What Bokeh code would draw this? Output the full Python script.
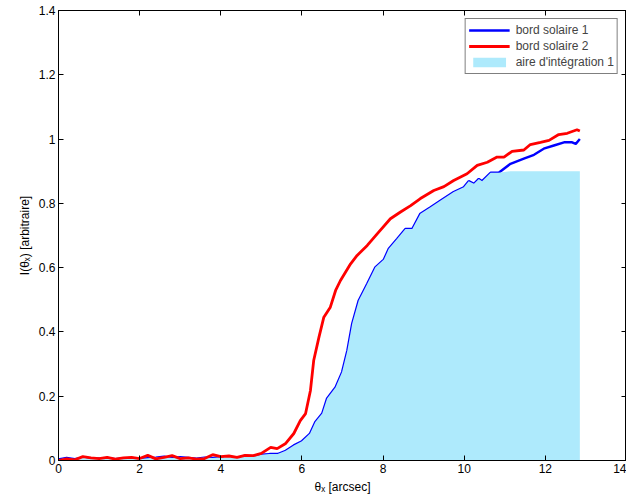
import numpy as np
from bokeh.plotting import figure
from bokeh.models import Range1d, LinearAxis, Legend, LegendItem, FixedTicker
from bokeh.embed import file_html
from bokeh.resources import INLINE

# bord solaire 1 (blue)
x1 = [0.0, 0.2, 0.4, 0.6, 0.8, 1.0, 1.2, 1.4, 1.6, 1.8, 2.0, 2.2, 2.4, 2.6, 2.8,
      3.0, 3.2, 3.4, 3.6, 3.8, 4.0, 4.2, 4.4, 4.6, 4.8, 5.0, 5.2, 5.4, 5.6, 5.8,
      6.0, 6.2, 6.33, 6.5, 6.62, 6.83, 6.99, 7.12, 7.24, 7.4, 7.61, 7.81, 8.02,
      8.14, 8.35, 8.55, 8.72, 8.92, 9.17, 9.42, 9.74, 9.99, 10.11, 10.24, 10.36,
      10.44, 10.65, 10.85, 11.14, 11.47, 11.72, 11.96, 12.21, 12.46, 12.66, 12.75, 12.85]
y1 = [0.003, 0.008, 0.004, 0.009, 0.005, 0.006, 0.008, 0.004, 0.007, 0.006, 0.005,
      0.007, 0.009, 0.012, 0.008, 0.010, 0.008, 0.006, 0.009, 0.008, 0.010, 0.012,
      0.008, 0.015, 0.012, 0.018, 0.020, 0.020, 0.030, 0.047, 0.060, 0.084, 0.120,
      0.146, 0.193, 0.228, 0.275, 0.342, 0.426, 0.498, 0.550, 0.601, 0.625, 0.659,
      0.690, 0.720, 0.720, 0.768, 0.788, 0.809, 0.835, 0.850, 0.869, 0.861, 0.876,
      0.869, 0.895, 0.895, 0.923, 0.939, 0.951, 0.970, 0.980, 0.990, 0.990, 0.985, 1.000]

# bord solaire 2 (red)
x2 = [0.0, 0.2, 0.4, 0.6, 0.8, 1.0, 1.2, 1.4, 1.6, 1.8, 2.0, 2.2, 2.4, 2.6, 2.8,
      3.0, 3.2, 3.4, 3.6, 3.8, 4.0, 4.2, 4.4, 4.6, 4.8, 5.0, 5.23, 5.39, 5.6, 5.8,
      5.96, 6.09, 6.21, 6.29, 6.42, 6.54, 6.7, 6.83, 6.95, 7.2, 7.36, 7.61, 7.86,
      8.18, 8.43, 8.68, 8.92, 9.25, 9.5, 9.74, 10.07, 10.32, 10.57, 10.81, 10.98,
      11.18, 11.47, 11.63, 11.88, 12.09, 12.33, 12.54, 12.78, 12.85]
y2 = [0.000, 0.005, 0.002, 0.012, 0.008, 0.006, 0.010, 0.004, 0.008, 0.010, 0.006,
      0.016, 0.005, 0.010, 0.015, 0.006, 0.008, 0.004, 0.006, 0.018, 0.012, 0.014,
      0.010, 0.016, 0.015, 0.022, 0.041, 0.037, 0.053, 0.084, 0.124, 0.146, 0.218,
      0.311, 0.384, 0.446, 0.477, 0.529, 0.560, 0.612, 0.638, 0.669, 0.706, 0.752,
      0.773, 0.793, 0.815, 0.840, 0.852, 0.871, 0.892, 0.918, 0.928, 0.944, 0.944,
      0.962, 0.966, 0.983, 0.990, 0.996, 1.014, 1.018, 1.029, 1.025]

area_cap = 0.9
x_ticks = [0, 2, 4, 6, 8, 10, 12, 14]
y_ticks = [0, 0.2, 0.4, 0.6, 0.8, 1.0, 1.2, 1.4]

FONT = "Liberation Sans"

p = figure(frame_width=568, frame_height=450, output_backend="svg", toolbar_location=None,
           x_range=Range1d(0, 14), y_range=Range1d(0, 1.4),
           min_border_left=58, min_border_right=0, min_border_top=10, min_border_bottom=0)
p.grid.visible = False
p.outline_line_color = "black"
p.outline_line_width = 1

p.xaxis.axis_label = "θₓ [arcsec]"
p.yaxis.axis_label = "I(θₓ) [arbitraire]"

for ax, tk in [(p.xaxis[0], x_ticks), (p.yaxis[0], y_ticks)]:
    ax.ticker = FixedTicker(ticks=tk)
    ax.major_tick_in = 5
    ax.major_tick_out = 0
    ax.minor_tick_in = 0
    ax.minor_tick_out = 0
    ax.axis_line_color = "black"
    ax.major_tick_line_color = "black"
    ax.major_label_text_font = FONT
    ax.major_label_text_font_size = "12px"
    ax.major_label_text_color = "black"
    ax.axis_label_text_font = FONT
    ax.axis_label_text_font_size = "12px"
    ax.axis_label_text_font_style = "normal"
    ax.axis_label_text_color = "black"
    ax.major_label_standoff = 3
    ax.axis_label_standoff = 4

p.yaxis[0].major_label_overrides = {0: "0", 1: "1"}

top = LinearAxis(ticker=FixedTicker(ticks=x_ticks), major_tick_in=5, major_tick_out=0,
                 minor_tick_in=0, minor_tick_out=0,
                 major_label_overrides={t: "" for t in x_ticks},
                 major_label_standoff=0, axis_line_color="black")
right = LinearAxis(ticker=FixedTicker(ticks=y_ticks), major_tick_in=5, major_tick_out=0,
                   minor_tick_in=0, minor_tick_out=0,
                   major_label_overrides={t: "" for t in y_ticks},
                   major_label_standoff=0, axis_line_color="black")
p.add_layout(top, "above")
p.add_layout(right, "right")

xb = np.array(x1)
yb = np.array(y1)
r_blue = p.line(xb, yb, line_color="#0000ff", line_width=2.4)
r_area = p.varea(x=xb, y1=np.zeros_like(yb), y2=np.minimum(yb, area_cap),
                 fill_color="#aeeafc", fill_alpha=1.0)
r_red = p.line(x2, y2, line_color="#ff0000", line_width=2.8)

legend = Legend(items=[
    LegendItem(label="bord solaire 1", renderers=[r_blue]),
    LegendItem(label="bord solaire 2", renderers=[r_red]),
    LegendItem(label="aire d'intégration 1", renderers=[r_area]),
], location="top_right")
legend.label_text_font = FONT
legend.label_text_font_size = "12px"
legend.border_line_color = "black"
legend.border_line_width = 1
legend.background_fill_alpha = 1
legend.margin = 8
legend.padding = 3
legend.spacing = 0
legend.label_height = 16
legend.glyph_height = 12
legend.glyph_width = 41
legend.label_standoff = 6
p.add_layout(legend, "center")

open("out.html", "w").write(file_html(p, INLINE))
